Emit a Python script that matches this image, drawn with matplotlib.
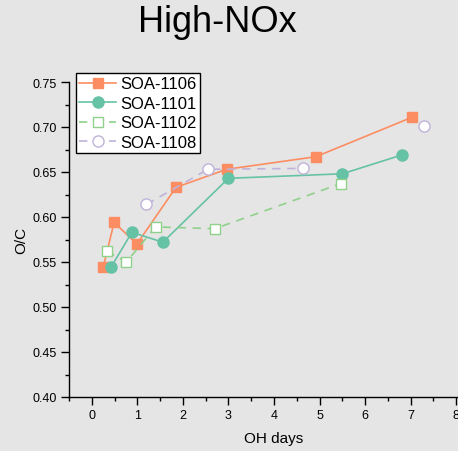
import numpy as np
import matplotlib
matplotlib.use("Agg")
import matplotlib.pyplot as plt
from matplotlib.ticker import MultipleLocator

plt.rcParams['font.family'] = ['Liberation Sans', 'DejaVu Sans']

# Data
x_1106 = [0.25, 0.49, 0.99, 1.85, 2.96, 4.92, 7.04]
y_1106 = [0.544, 0.594, 0.570, 0.633, 0.653, 0.667, 0.711]

x_1101 = [0.42, 0.88, 1.56, 3.00, 5.50, 6.81]
y_1101 = [0.544, 0.583, 0.572, 0.643, 0.648, 0.669]

x_1102 = [0.33, 0.76, 1.40, 2.70, 5.46]
y_1102 = [0.562, 0.550, 0.589, 0.587, 0.637]

x_1108 = [1.20, 2.55, 4.63, np.nan, 7.30]
y_1108 = [0.614, 0.653, 0.654, np.nan, 0.701]

labels = ['SOA-1106', 'SOA-1101', 'SOA-1102', 'SOA-1108']
title = 'High-NOx'
xlabel = 'OH days'
ylabel = 'O/C'

bg = '#e5e5e5'
fig = plt.figure(figsize=(4.58, 4.52), dpi=100, facecolor=bg)
ax = fig.add_axes([69/458, 1-398/452, 410/458, 315/452], facecolor=bg)

ax.plot(x_1106, y_1106, '-', color='#fc8d62', lw=1.2, marker='s', ms=7.5,
        mfc='#fc8d62', mec='#fc8d62', label=labels[0], zorder=3)
ax.plot(x_1101, y_1101, '-', color='#66c2a5', lw=1.2, marker='o', ms=8,
        mfc='#66c2a5', mec='#66c2a5', label=labels[1], zorder=3)
ax.plot(x_1102, y_1102, '--', color='#8fd18a', lw=1.2, marker='s', ms=7.5,
        mfc='white', mec='#8fd18a', mew=1.0, label=labels[2], dashes=(5, 4), zorder=3)
ax.plot(x_1108, y_1108, '--', color='#bfb3da', lw=1.2, marker='o', ms=8,
        mfc='white', mec='#bfb3da', mew=1.0, label=labels[3], dashes=(5, 4), zorder=3)

ax.set_xlim(-0.5, 8.5)
ax.set_ylim(0.40, 0.75)
ax.xaxis.set_major_locator(MultipleLocator(1))
ax.xaxis.set_minor_locator(MultipleLocator(0.5))
ax.yaxis.set_major_locator(MultipleLocator(0.05))
ax.yaxis.set_minor_locator(MultipleLocator(0.025))
ax.yaxis.set_major_formatter(matplotlib.ticker.FormatStrFormatter('%.2f'))

for s in ['top', 'right']:
    ax.spines[s].set_visible(False)
for s in ['left', 'bottom']:
    ax.spines[s].set_linewidth(1.0)
    ax.spines[s].set_color('black')

ax.tick_params(which='major', direction='out', length=6, width=1, labelsize=9, pad=3)
ax.tick_params(which='minor', direction='out', length=3, width=1)

ax.set_xlabel(xlabel, fontsize=11, labelpad=7)
ax.set_ylabel(ylabel, fontsize=11, labelpad=3)

fig.text(217/458, 1-23/452, title, fontsize=26, ha='center', va='center')

leg = ax.legend(loc='upper left', bbox_to_anchor=(76/458, 1-74/452),
                bbox_transform=fig.transFigure, borderaxespad=0,
                fontsize=12, frameon=True, fancybox=False, framealpha=1,
                edgecolor='black', handlelength=2.2, labelspacing=0.27,
                borderpad=0.2, handletextpad=0.25)
leg.get_frame().set_linewidth(1.0)

fig.savefig('out.png', dpi=100, facecolor=bg)
